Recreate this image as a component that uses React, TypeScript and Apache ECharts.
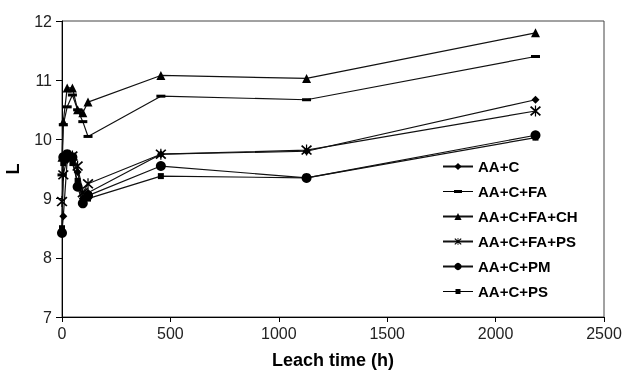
import React, { useEffect, useRef } from "react";
import * as echarts from "echarts";

const hours = [0, 6, 24, 48, 72, 96, 120, 456, 1128, 2184];
const seriesNames = ["AA+C", "AA+C+FA", "AA+C+FA+CH", "AA+C+FA+PS", "AA+C+PM", "AA+C+PS"];
const aaC = [8.45, 8.7, 9.65, 9.7, 9.45, 9.0, 9.1, 9.75, 9.8, 10.67];
const aaCFA = [9.4, 10.25, 10.55, 10.75, 10.5, 10.3, 10.05, 10.73, 10.67, 11.4];
const aaCFACH = [9.7, 10.3, 10.87, 10.87, 10.5, 10.45, 10.63, 11.08, 11.03, 11.8];
const aaCFAPS = [8.95, 9.4, 9.7, 9.72, 9.55, 9.1, 9.25, 9.75, 9.82, 10.48];
const aaCPM = [8.42, 9.7, 9.75, 9.7, 9.2, 8.92, 9.05, 9.55, 9.35, 10.07];
const aaCPS = [8.5, 9.6, 9.7, 9.6, 9.3, 8.95, 9.0, 9.38, 9.35, 10.03];
const xTicks = [0, 500, 1000, 1500, 2000, 2500];
const yTicks = [7, 8, 9, 10, 11, 12];

const asterisk =
  "path://M9 0L11 0L11 20L9 20Z M1 3L3 1L19 17L17 19Z M17 1L19 3L3 19L1 17Z";
const dashIcon = "path://M0 3.4L30 3.4L30 4.6L0 4.6Z M11 2.6L19 2.6L19 5.4L11 5.4Z";
const squareIcon = "path://M0 3.4L30 3.4L30 4.6L0 4.6Z M12.5 1.5L17.5 1.5L17.5 6.5L12.5 6.5Z";

const FONT = "'Liberation Sans', Arial, sans-serif";

export default function App() {
  const ref = useRef<HTMLDivElement>(null);
  useEffect(() => {
    if (!ref.current) return;
    const chart = echarts.init(ref.current, undefined, { renderer: "svg" });
    const values = [aaC, aaCFA, aaCFACH, aaCFAPS, aaCPM, aaCPS];
    const symbols: any[] = ["diamond", "rect", "triangle", asterisk, "circle", "rect"];
    const sizes: any[] = [8, [9, 3], 9, 11, 10, 6];
    const series = seriesNames.map((name, i) => ({
      name,
      type: "line",
      data: hours.map((h, j) => [h, values[i][j]]),
      symbol: symbols[i],
      symbolSize: sizes[i],
      showSymbol: true,
      lineStyle: { color: "#111", width: 1.2 },
      itemStyle: { color: "#000", borderWidth: 0 },
    }));
    const legendData = seriesNames.map((name, i) => {
      if (i === 1) return { name, icon: dashIcon };
      if (i === 5) return { name, icon: squareIcon };
      return { name };
    });
    chart.setOption({
      animation: false,
      textStyle: { fontFamily: FONT },
      grid: {
        left: 62,
        right: 20,
        top: 21,
        bottom: 59,
        outerBoundsMode: "none",
        containLabel: false,
        show: true,
        borderColor: "#444",
        borderWidth: 1,
      },
      legend: {
        orient: "vertical",
        left: 437,
        top: 154,
        itemWidth: 30,
        itemHeight: 9,
        itemGap: 10,
        data: legendData,
        textStyle: { fontSize: 15, fontWeight: "bold", color: "#000", fontFamily: FONT },
      },
      xAxis: {
        type: "value",
        min: xTicks[0],
        max: xTicks[xTicks.length - 1],
        interval: 500,
        name: "Leach time (h)",
        nameLocation: "middle",
        nameGap: 34,
        nameTextStyle: { fontSize: 18, fontWeight: "bold", color: "#000", fontFamily: FONT },
        axisLine: { lineStyle: { color: "#000", width: 1 } },
        axisTick: { show: true, length: 5, lineStyle: { color: "#000" } },
        axisLabel: {
          fontSize: 16,
          color: "#222",
          margin: 8,
          fontFamily: FONT,
          formatter: (v: number) => String(v),
        },
        splitLine: { show: false },
      },
      yAxis: {
        type: "value",
        min: yTicks[0],
        max: yTicks[yTicks.length - 1],
        interval: 1,
        name: "L",
        nameLocation: "middle",
        nameGap: 40,
        nameTextStyle: { fontSize: 18, fontWeight: "bold", color: "#000", fontFamily: FONT },
        axisLine: { show: true, lineStyle: { color: "#000", width: 1 } },
        axisTick: { show: true, length: 6, lineStyle: { color: "#000" } },
        axisLabel: {
          fontSize: 16,
          color: "#222",
          margin: 10,
          fontFamily: FONT,
          formatter: (v: number) => String(v),
        },
        splitLine: { show: false },
      },
      series,
    });
    return () => chart.dispose();
  }, []);
  return (
    <div
      ref={ref}
      style={{ position: "fixed", left: 0, top: 0, width: 624, height: 376 }}
    />
  );
}
